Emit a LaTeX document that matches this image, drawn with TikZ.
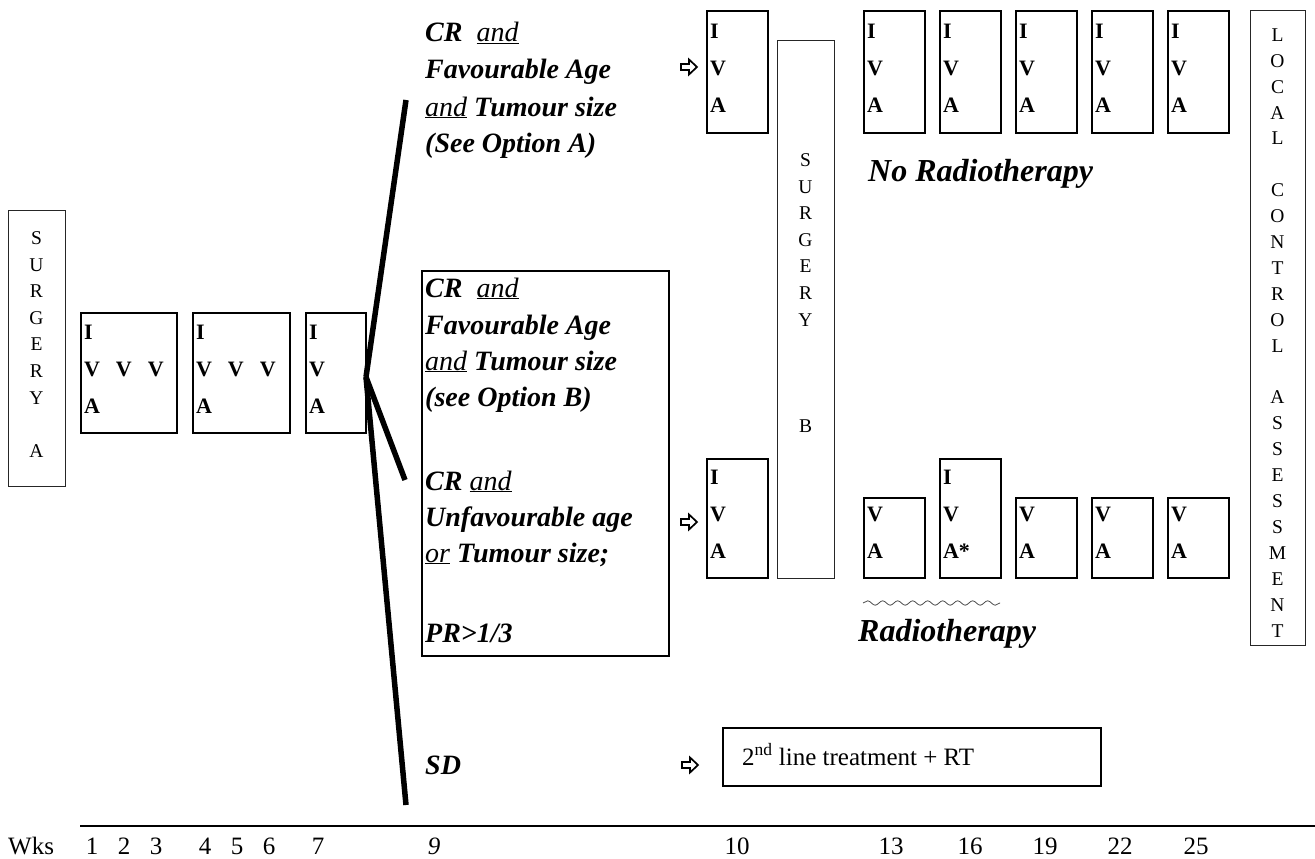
\documentclass[tikz,border=0pt]{standalone}
\usepackage{fontspec}
\setmainfont{Liberation Serif}
\usetikzlibrary{decorations.pathmorphing}
\newcommand\lowpad{\rule[-8pt]{0pt}{8pt}}
\begin{document}
\begin{tikzpicture}[x=1pt,y=-1pt,
  ivabox/.style={draw, line width=2pt, anchor=north west, inner xsep=3pt, inner ysep=0pt,
    align=left, minimum width=61pt, text width=55pt, font=\fontsize{22}{37}\selectfont\bfseries},
  wide/.style={ivabox, minimum width=#1, text width=#1-6pt},
  surgbox/.style={draw=black!85, line width=1.2pt, anchor=north west, inner sep=0pt},
  stack/.style={align=center, anchor=north, inner sep=0pt, font=\fontsize{19.5}{26.6}\selectfont},
  cond/.style={anchor=base west, inner sep=0pt, font=\fontsize{28}{30}\selectfont\bfseries\itshape},
  big/.style={anchor=base west, inner sep=0pt, font=\fontsize{32}{34}\selectfont\bfseries\itshape},
  branch/.style={line width=5.5pt},
  arrowsym/.style={line width=1.7pt, line join=miter, fill=white},
  wk/.style={anchor=base, inner sep=0pt, font=\fontsize{25}{27}\selectfont},
  plainbox/.style={draw, line width=1.5pt, anchor=north west, inner sep=0pt},
]
\useasboundingbox (0,0) rectangle (1315,859);

% Surgery A
\node[surgbox, minimum width=57pt, minimum height=276pt] (surgA) at (8,210) {};
\node[stack] (surgAtxt) at (36.5,231.4) {S\\U\\R\\G\\E\\R\\Y\\[26.6pt]A};

% first three cycles
\node[wide=96pt, minimum height=120pt] (w1) at (80,312) {I\\V\hspace{16pt}V\hspace{16pt}V\\A\lowpad};
\node[wide=97pt, minimum height=120pt] (w2) at (192,312) {I\\V\hspace{16pt}V\hspace{16pt}V\\A\lowpad};
\node[wide=60pt, minimum height=120pt] (w3) at (305,312) {I\\V\\A\lowpad};

% branching
\coordinate (j) at (366,377);
\coordinate (eA) at (406,100);
\coordinate (eB) at (405,480);
\coordinate (eC) at (406,805);
\draw[branch] (j) -- (eA);
\draw[branch] (j) -- (eB);
\draw[branch] (j) -- (eC);

% option A text
\node[cond] (a1) at (425,42) {CR~~\underline{\mdseries and}};
\node[cond] (a2) at (425,79) {Favourable Age};
\node[cond] (a3) at (425,116) {\underline{\mdseries and} Tumour size};
\node[cond] (a4) at (425,152) {(See Option A)};

% option B box
\node[plainbox, minimum width=247pt, minimum height=385pt] (optB) at (421,270) {};
\node[cond] (b1) at (425,297) {CR~~\underline{\mdseries and}};
\node[cond] (b2) at (425,334) {Favourable Age};
\node[cond] (b3) at (425,370) {\underline{\mdseries and} Tumour size};
\node[cond] (b4) at (425,406) {(see Option B)};
\node[cond] (b5) at (425,490) {CR \underline{\mdseries and}};
\node[cond] (b6) at (425,526) {Unfavourable age};
\node[cond] (b7) at (425,562) {\underline{\mdseries or} Tumour size;};
\node[cond] (b8) at (425,642) {PR>1/3};

\node[cond] (sd) at (425,774) {SD};

% arrows (white block arrows)
\coordinate (arA) at (689,67);
\coordinate (arB) at (689,522);
\coordinate (arC) at (690,765);
\foreach \c in {arA,arB,arC}{
  \draw[arrowsym, shift={(\c)}] (-8,-3) -- (0,-3) -- (0,-7.5) -- (8,0) -- (0,7.5) -- (0,3) -- (-8,3) -- cycle;
}

% cycle 10
\node[ivabox, minimum height=122pt] (t10) at (706,10) {I\\V\\A\lowpad};
\node[ivabox, minimum height=119pt] (l10) at (706,458) {I\\V\\A\lowpad};

% surgery B
\node[surgbox, minimum width=57pt, minimum height=538pt] (surgB) at (777,40) {};
\node[stack] (surgBtxt) at (805.5,153.4) {S\\U\\R\\G\\E\\R\\Y\\[79.8pt]B};

% no radiotherapy row
\node[ivabox, minimum height=122pt] (t13) at (863,10) {I\\V\\A\lowpad};
\node[ivabox, minimum height=122pt] (t16) at (939,10) {I\\V\\A\lowpad};
\node[ivabox, minimum height=122pt] (t19) at (1015,10) {I\\V\\A\lowpad};
\node[ivabox, minimum height=122pt] (t22) at (1091,10) {I\\V\\A\lowpad};
\node[ivabox, minimum height=122pt] (t25) at (1167,10) {I\\V\\A\lowpad};
\node[big] (norad) at (868,181) {No Radiotherapy};

% radiotherapy row
\node[ivabox, minimum height=80pt] (l13) at (863,497) {V\\A\rule[-10pt]{0pt}{10pt}};
\node[ivabox, minimum height=119pt] (l16) at (939,458) {I\\V\\A*\lowpad};
\node[ivabox, minimum height=80pt] (l19) at (1015,497) {V\\A\rule[-10pt]{0pt}{10pt}};
\node[ivabox, minimum height=80pt] (l22) at (1091,497) {V\\A\rule[-10pt]{0pt}{10pt}};
\node[ivabox, minimum height=80pt] (l25) at (1167,497) {V\\A\rule[-10pt]{0pt}{10pt}};
\coordinate (wv1) at (863,603);
\coordinate (wv2) at (1000,603);
\draw[black!70, line width=0.8pt, decorate, decoration={snake, segment length=15pt, amplitude=2.2pt}] (wv1) -- (wv2);
\node[big] (rad) at (858,641) {Radiotherapy};

% local control
\node[surgbox, minimum width=55pt, minimum height=635pt] (loc) at (1250,10) {};
\node[stack, font=\fontsize{19.5}{25.9}\selectfont] (loctxt) at (1277.5,28.4)
  {L\\O\\C\\A\\L\\[25.9pt]C\\O\\N\\T\\R\\O\\L\\[25.9pt]A\\S\\S\\E\\S\\S\\M\\E\\N\\T};

% second line
\node[plainbox, minimum width=378pt, minimum height=58pt] (second) at (722,727) {};
\node[anchor=base west, inner sep=0pt, font=\fontsize{25}{28}\selectfont] (secondtxt) at (742,765)
  {2\textsuperscript{nd} line treatment + RT};

% time axis
\coordinate (ax1) at (80,826);
\coordinate (ax2) at (1315,826);
\draw[line width=2pt] (ax1) -- (ax2);
\node[wk, anchor=base west] (wks) at (8,854) {Wks};
\node[wk] (k1) at (92,854) {1};
\node[wk] (k2) at (124,854) {2};
\node[wk] (k3) at (156,854) {3};
\node[wk] (k4) at (205,854) {4};
\node[wk] (k5) at (237,854) {5};
\node[wk] (k6) at (269,854) {6};
\node[wk] (k7) at (318,854) {7};
\node[wk] (k9) at (434,854) {\itshape 9};
\node[wk] (k10) at (737,854) {10};
\node[wk] (k13) at (891,854) {13};
\node[wk] (k16) at (970,854) {16};
\node[wk] (k19) at (1045,854) {19};
\node[wk] (k22) at (1120,854) {22};
\node[wk] (k25) at (1196,854) {25};
\end{tikzpicture}
\end{document}
